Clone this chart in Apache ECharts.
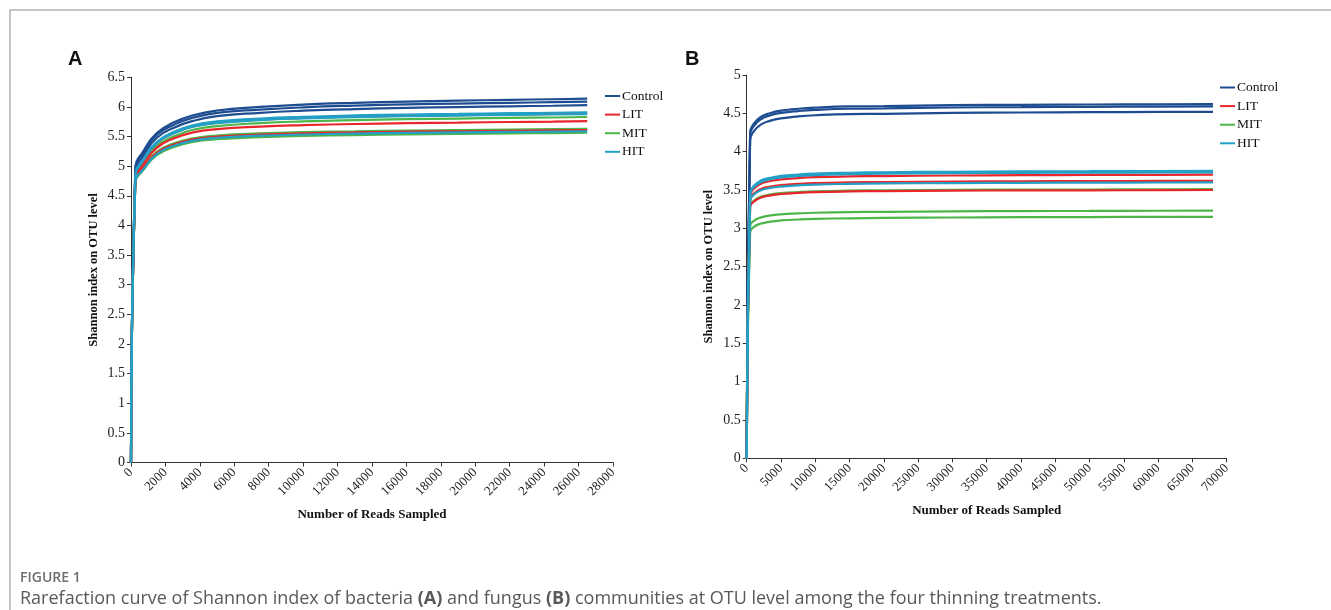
<!DOCTYPE html>
<html>
<head>
<meta charset="utf-8">
<script src="https://cdn.jsdelivr.net/npm/echarts@6/dist/echarts.min.js"></script>
<style>
html,body{margin:0;padding:0;background:#fff;}
#c{width:1331px;height:610px;}
</style>
</head>
<body>
<div id="c"></div>
<script>
// ---------- DATA ----------
const treatments = ['Control', 'LIT', 'MIT', 'HIT'];
const colors = ['#1d4c91', '#e8262b', '#4cb648', '#22a0c6'];

// Panel A (bacteria): reads sampled
const readsA = [0, 250, 750, 1500, 2500, 3600, 5000, 7500, 10000, 13000, 16000, 19000, 22000, 24500, 26500];
const aControl = [
  [0, 4.95, 5.27, 5.56, 5.74, 5.86, 5.94, 6.00, 6.04, 6.07, 6.09, 6.105, 6.12, 6.13, 6.14],
  [0, 4.92, 5.24, 5.53, 5.70, 5.82, 5.90, 5.955, 5.993, 6.022, 6.042, 6.057, 6.07, 6.08, 6.09],
  [0, 4.88, 5.19, 5.48, 5.65, 5.765, 5.845, 5.90, 5.936, 5.964, 5.983, 5.998, 6.011, 6.02, 6.03]
];
const aLIT = [
  [0, 4.80, 5.10, 5.39, 5.56, 5.67, 5.735, 5.785, 5.814, 5.836, 5.852, 5.863, 5.874, 5.882, 5.89],
  [0, 4.76, 5.04, 5.31, 5.47, 5.57, 5.625, 5.668, 5.693, 5.712, 5.726, 5.736, 5.746, 5.753, 5.76],
  [0, 4.73, 4.98, 5.225, 5.365, 5.452, 5.499, 5.534, 5.555, 5.57, 5.582, 5.59, 5.598, 5.604, 5.61]
];
const aMIT = [
  [0, 4.78, 5.06, 5.34, 5.505, 5.615, 5.677, 5.727, 5.756, 5.778, 5.793, 5.804, 5.815, 5.822, 5.83],
  [0, 4.74, 4.99, 5.24, 5.385, 5.47, 5.518, 5.553, 5.574, 5.589, 5.601, 5.609, 5.617, 5.624, 5.63],
  [0, 4.70, 4.945, 5.185, 5.325, 5.41, 5.455, 5.49, 5.51, 5.525, 5.537, 5.545, 5.553, 5.559, 5.565]
];
const aHIT = [
  [0, 4.83, 5.13, 5.41, 5.58, 5.69, 5.755, 5.805, 5.834, 5.856, 5.872, 5.883, 5.894, 5.902, 5.91],
  [0, 4.81, 5.11, 5.39, 5.555, 5.665, 5.727, 5.777, 5.806, 5.828, 5.843, 5.854, 5.865, 5.872, 5.88],
  [0, 4.72, 4.96, 5.205, 5.345, 5.432, 5.48, 5.515, 5.535, 5.55, 5.562, 5.57, 5.578, 5.584, 5.59]
];

// Panel B (fungus): reads sampled
const readsB = [0, 500, 1000, 2000, 3500, 5000, 7500, 10000, 15000, 20000, 30000, 40000, 50000, 60000, 68000];
const bControl = [
  [0, 4.25, 4.36, 4.45, 4.505, 4.535, 4.56, 4.575, 4.59, 4.594, 4.606, 4.611, 4.615, 4.618, 4.62],
  [0, 4.22, 4.33, 4.42, 4.475, 4.505, 4.53, 4.545, 4.56, 4.564, 4.576, 4.581, 4.585, 4.588, 4.59],
  [0, 4.15, 4.26, 4.35, 4.405, 4.435, 4.46, 4.475, 4.49, 4.494, 4.506, 4.511, 4.515, 4.518, 4.52]
];
const bLIT = [
  [0, 3.425, 3.513, 3.579, 3.617, 3.638, 3.656, 3.667, 3.677, 3.682, 3.689, 3.693, 3.696, 3.698, 3.70],
  [0, 3.37, 3.45, 3.51, 3.545, 3.564, 3.58, 3.59, 3.599, 3.604, 3.61, 3.614, 3.616, 3.618, 3.62],
  [0, 3.28, 3.345, 3.398, 3.43, 3.448, 3.463, 3.472, 3.481, 3.486, 3.491, 3.495, 3.496, 3.498, 3.50]
];
const bMIT = [
  [0, 3.285, 3.357, 3.411, 3.442, 3.46, 3.474, 3.483, 3.491, 3.496, 3.501, 3.505, 3.506, 3.508, 3.51],
  [0, 3.03, 3.095, 3.14, 3.168, 3.183, 3.195, 3.203, 3.211, 3.215, 3.221, 3.225, 3.227, 3.229, 3.23],
  [0, 2.95, 3.015, 3.06, 3.088, 3.103, 3.115, 3.123, 3.131, 3.135, 3.141, 3.145, 3.147, 3.149, 3.15]
];
const bHIT = [
  [0, 3.45, 3.55, 3.62, 3.66, 3.683, 3.702, 3.714, 3.725, 3.731, 3.738, 3.743, 3.745, 3.748, 3.75],
  [0, 3.44, 3.535, 3.60, 3.64, 3.664, 3.683, 3.695, 3.706, 3.712, 3.719, 3.724, 3.726, 3.728, 3.73],
  [0, 3.36, 3.435, 3.493, 3.527, 3.545, 3.561, 3.571, 3.58, 3.585, 3.59, 3.594, 3.596, 3.598, 3.60]
];

const yLabel = 'Shannon index on OTU level';
const xLabel = 'Number of Reads Sampled';
const captionHead = 'FIGURE 1';

// ---------- BUILD ----------
const serif = '"Liberation Serif", "Times New Roman", serif';
const axisColor = '#333';

function makeSeries(reads, groups, idx) {
  const out = [];
  const order = [0, 2, 1, 3];
  order.forEach(function (g) {
    groups[g].forEach(function (vals) {
      out.push({
        name: treatments[g],
        type: 'line',
        xAxisIndex: idx,
        yAxisIndex: idx,
        data: reads.map(function (r, i) { return [r, vals[i]]; }),
        showSymbol: false,
        smooth: 0.5,
        lineStyle: { width: 2.2, color: colors[g] },
        itemStyle: { color: colors[g] },
        emphasis: { disabled: true },
        animation: false
      });
    });
  });
  return out;
}

function xAxis(idx, max, interval) {
  return {
    type: 'value', gridIndex: idx, min: 0, max: max, interval: interval,
    name: xLabel, nameLocation: 'middle', nameGap: 46,
    nameTextStyle: { fontFamily: serif, fontSize: 13, color: '#111', fontWeight: 'bold' },
    axisLine: { show: true, onZero: false, lineStyle: { color: axisColor, width: 1 } },
    axisTick: { show: true, length: 4, lineStyle: { color: axisColor } },
    axisLabel: { rotate: 45, fontFamily: serif, fontSize: 13, color: '#222', margin: 8,
      formatter: function (v) { return String(v); } },
    splitLine: { show: false }
  };
}
function yAxis(idx, max) {
  return {
    type: 'value', gridIndex: idx, min: 0, max: max, interval: 0.5,
    name: yLabel, nameLocation: 'middle', nameGap: 31,
    nameTextStyle: { fontFamily: serif, fontSize: 12.5, color: '#111', fontWeight: 'bold' },
    axisLine: { show: true, lineStyle: { color: axisColor, width: 1 } },
    axisTick: { show: true, length: 4, lineStyle: { color: axisColor } },
    axisLabel: { fontFamily: serif, fontSize: 14, color: '#222', margin: 6,
      formatter: function (v) { return String(v); } },
    splitLine: { show: false }
  };
}
function legend(left, top) {
  return {
    data: treatments, orient: 'vertical', left: left, top: top,
    icon: 'rect', itemWidth: 15, itemHeight: 2, itemGap: 2.6,
    textStyle: { fontFamily: serif, fontSize: 13.5, color: '#111', lineHeight: 16, padding: [0, 0, 0, -3] },
    selectedMode: false
  };
}

const chart = echarts.init(document.getElementById('c'), null, { renderer: 'canvas' });
chart.setOption({
  animation: false,
  backgroundColor: '#fff',
  grid: [
    { left: 131, top: 77.3, width: 482, height: 385.2 },
    { left: 746.7, top: 75, width: 480, height: 383.3 }
  ],
  xAxis: [xAxis(0, 28000, 2000), xAxis(1, 70000, 5000)],
  yAxis: [yAxis(0, 6.5), yAxis(1, 5)],
  legend: [legend(600, 83), legend(1215, 74.5)],
  series: makeSeries(readsA, [aControl, aLIT, aMIT, aHIT], 0)
    .concat(makeSeries(readsB, [bControl, bLIT, bMIT, bHIT], 1)),
  graphic: [
    { type: 'rect', silent: true,
      shape: { x: 10, y: 10, width: 1400, height: 700 },
      style: { fill: 'none', stroke: '#b3b3b3', lineWidth: 1.5 } },
    { type: 'text', left: 68, top: 49, silent: true,
      style: { text: 'A', font: 'bold 20px "Liberation Sans", Arial, sans-serif', fill: '#111' } },
    { type: 'text', left: 685, top: 49, silent: true,
      style: { text: 'B', font: 'bold 20px "Liberation Sans", Arial, sans-serif', fill: '#111' } },
    { type: 'text', left: 20, top: 571, silent: true,
      style: { text: captionHead, font: '600 14px "Open Sans", sans-serif', fill: '#6d6e71' } },
    { type: 'text', left: 20, top: 590, silent: true,
      style: {
        text: 'Rarefaction curve of Shannon index of bacteria {b|(A)} and fungus {b|(B)} communities at OTU level among the four thinning treatments.',
        font: '18px "Open Sans", sans-serif', fill: '#58595b',
        rich: { b: { fontWeight: 'bold', fontSize: 18, fontFamily: '"Open Sans", sans-serif', fill: '#58595b' } }
      } }
  ]
});
</script>
</body>
</html>
